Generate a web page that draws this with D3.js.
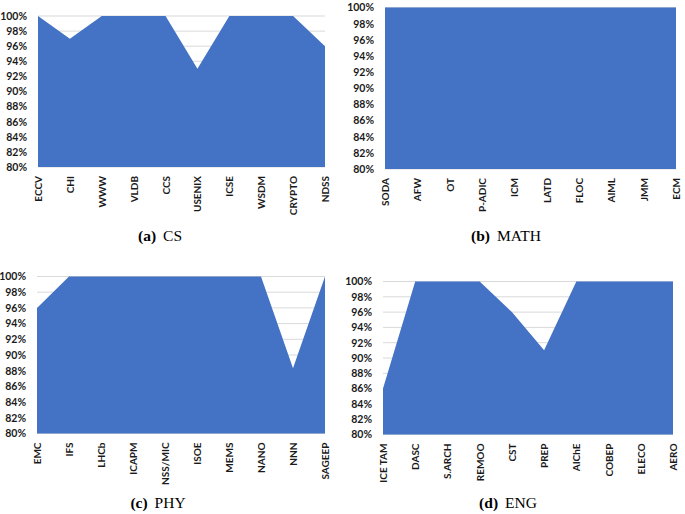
<!DOCTYPE html>
<html>
<head>
<meta charset="utf-8">
<script src="https://cdn.jsdelivr.net/npm/d3@7"></script>
<style>
  body { margin: 0; background: #fff; }
  .tick text { font-family: Lato, "Liberation Sans", Arial, sans-serif; font-weight: bold; fill: #1a1a1a; }
</style>
</head>
<body>
<svg id="chart" width="685" height="514"></svg>
<script>
// categories per panel
const csCats = ['ECCV', 'CHI', 'WWW', 'VLDB', 'CCS', 'USENIX', 'ICSE', 'WSDM', 'CRYPTO', 'NDSS'];
const mathCats = ['SODA', 'AFW', 'OT', 'P-ADIC', 'ICM', 'LATD', 'FLOC', 'AIML', 'JMM', 'ECM'];
const phyCats = ['EMC', 'IFS', 'LHCb', 'ICAPM', 'NSS/MIC', 'ISOE', 'MEMS', 'NANO', 'NNN', 'SAGEEP'];
const engCats = ['ICE TAM', 'DASC', 'S.ARCH', 'REMOO', 'CST', 'PREP', 'AIChE', 'COBEP', 'ELECO', 'AERO'];

// values (%)
const csVals = [100, 97, 100, 100, 100, 93, 100, 100, 100, 96];
const mathVals = [100, 100, 100, 100, 100, 100, 100, 100, 100, 100];
const phyVals = [96, 100, 100, 100, 100, 100, 100, 100, 88.3, 100];
const engVals = [86, 100, 100, 100, 96, 91, 100, 100, 100, 100];

const yTicks = [80, 82, 84, 86, 88, 90, 92, 94, 96, 98, 100];

const panels = [
  { letter: '(a)', name: 'CS', cats: csCats, vals: csVals, x0: 38, x1: 325, top: 16, bottom: 167, capX: 160, capY: 241 },
  { letter: '(b)', name: 'MATH', cats: mathCats, vals: mathVals, x0: 385, x1: 676, top: 7.5, bottom: 169, capX: 506, capY: 241 },
  { letter: '(c)', name: 'PHY', cats: phyCats, vals: phyVals, x0: 37, x1: 325, top: 276.5, bottom: 433.5, capX: 158, capY: 508 },
  { letter: '(d)', name: 'ENG', cats: engCats, vals: engVals, x0: 383, x1: 673, top: 281.5, bottom: 434.5, capX: 508, capY: 508 }
];

const svg = d3.select('#chart');

panels.forEach(p => {
  const g = svg.append('g');
  const data = p.cats.map((c, i) => ({ cat: c, val: p.vals[i] }));

  const x = d3.scalePoint().domain(p.cats).range([p.x0, p.x1]).padding(0);
  const y = d3.scaleLinear().domain([80, 100]).range([p.bottom, p.top]);

  // gridlines
  g.selectAll('.grid').data(yTicks).join('line')
    .attr('class', 'grid')
    .attr('x1', p.x0).attr('x2', p.x1)
    .attr('y1', d => y(d)).attr('y2', d => y(d))
    .attr('stroke', '#d9d9d9').attr('stroke-width', 1);

  const area = d3.area()
    .x(d => x(d.cat))
    .y0(y(80))
    .y1(d => y(d.val));

  g.append('path').datum(data).attr('d', area).attr('fill', '#4472c4');

  // y axis
  g.append('g')
    .attr('transform', `translate(${p.x0},0)`)
    .call(d3.axisLeft(y).tickValues(yTicks).tickSize(0).tickPadding(11).tickFormat(d => d + '%'))
    .call(a => a.select('.domain').remove())
    .selectAll('text').style('font-size', '10.5px');

  // x axis
  const xa = g.append('g')
    .attr('transform', `translate(0,${p.bottom})`)
    .call(d3.axisBottom(x).tickSize(0))
    .call(a => a.select('.domain').remove());
  xa.selectAll('text')
    .style('font-size', '10px')
    .attr('text-anchor', 'end')
    .attr('transform', 'rotate(-90)')
    .attr('x', -9).attr('y', 0).attr('dy', '0.35em');

  // caption
  const cap = svg.append('text')
    .attr('x', p.capX).attr('y', p.capY)
    .attr('text-anchor', 'middle')
    .style('font-family', '"Liberation Serif", "Times New Roman", serif')
    .style('font-size', '15.5px')
    .attr('fill', '#000');
  cap.append('tspan').style('font-weight', 'bold').text(p.letter);
  cap.append('tspan').attr('dx', 7).text(p.name);
});
</script>
</body>
</html>
